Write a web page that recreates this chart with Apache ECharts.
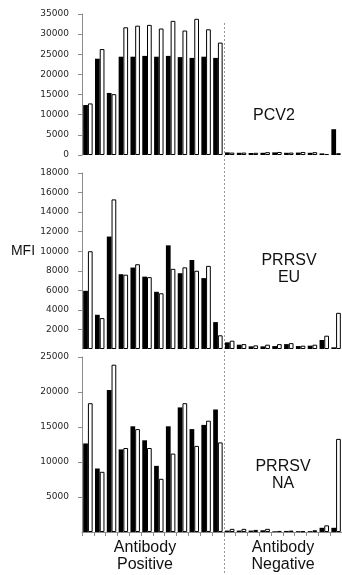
<!DOCTYPE html>
<html>
<head>
<meta charset="utf-8">
<script src="https://cdn.jsdelivr.net/npm/echarts@6/dist/echarts.min.js"></script>
<style>
  html, body { margin: 0; padding: 0; background: #fff; }
  #chart { width: 342px; height: 575px; }
</style>
</head>
<body>
<div id="chart"></div>
<script>
// 12 antibody positive sera, then 10 antibody negative sera
const samples = ['P1','P2','P3','P4','P5','P6','P7','P8','P9','P10','P11','P12',
                 'N1','N2','N3','N4','N5','N6','N7','N8','N9','N10'];

const pcv2Black = [12400, 23900, 15400, 24400, 24400, 24600, 24400, 24600, 24300, 24100, 24400, 24100,
                   650, 550, 500, 550, 650, 550, 600, 550, 400, 6400];
const pcv2White = [12800, 26300, 15100, 31700, 32100, 32300, 31400, 33300, 30900, 33800, 31200, 27900,
                   600, 600, 550, 700, 750, 600, 750, 700, 250, 450];

const euBlack = [5950, 3500, 11500, 7650, 8330, 7400, 5850, 10600, 7750, 9100, 7250, 2750,
                 680, 440, 270, 270, 300, 500, 300, 340, 920, 170];
const euWhite = [10000, 3160, 15300, 7600, 8670, 7350, 5700, 8200, 8350, 8000, 8500, 1400,
                 850, 500, 370, 440, 500, 600, 340, 440, 1360, 3700];

const naBlack = [12650, 9070, 20300, 11800, 15100, 13100, 9450, 15100, 17800, 14700, 15300, 17500,
                 200, 200, 200, 250, 100, 150, 120, 120, 600, 600];
const naWhite = [18400, 8600, 23900, 12000, 14700, 12000, 7600, 11200, 18400, 12300, 15900, 12800,
                 450, 450, 300, 450, 150, 200, 120, 250, 950, 13300];

const yMax = [35000, 18000, 25000];
const yStep = [5000, 2000, 5000];

const chart = echarts.init(document.getElementById('chart'));

const axisGray = '#8c8c8c';
const labelStyle = { fontFamily: 'DejaVu Sans', fontSize: 9, color: '#262626' };

const grids = [
    { left: 82, width: 261, top: 14, height: 141 },
    { left: 82, width: 261, top: 173, height: 176 },
    { left: 82, width: 261, top: 357, height: 175 }
];

const xAxes = grids.map((g, i) => ({
    type: 'category',
    gridIndex: i,
    data: samples,
    axisLine: { show: i === 2, lineStyle: { color: axisGray, width: 1 } },
    axisTick: { show: i === 2, interval: 0, length: 4, lineStyle: { color: axisGray } },
    axisLabel: { show: false }
}));

const yAxes = grids.map((g, i) => ({
    type: 'value',
    gridIndex: i,
    min: 0,
    max: yMax[i],
    interval: yStep[i],
    splitLine: { show: false },
    axisLine: { show: true, lineStyle: { color: axisGray, width: 1 } },
    axisTick: { show: true, length: 4, lineStyle: { color: axisGray } },
    axisLabel: Object.assign({
        margin: 13,
        showMinLabel: i === 0,
        formatter: v => String(v)
    }, labelStyle)
}));

function pair(idx, black, white) {
    return [
        {
            type: 'bar', xAxisIndex: idx, yAxisIndex: idx, data: black,
            barCategoryGap: '20%', barGap: '0%',
            itemStyle: { color: '#000', borderColor: '#000', borderWidth: 0 }
        },
        {
            type: 'bar', xAxisIndex: idx, yAxisIndex: idx, data: white,
            barCategoryGap: '20%', barGap: '0%',
            itemStyle: { color: '#fff', borderColor: '#000', borderWidth: 1 }
        }
    ];
}

const textFont = 'Liberation Sans';
function label(x, y, text, size) {
    return {
        type: 'text', x: x, y: y,
        style: {
            text: text, fontFamily: textFont, fontSize: size || 16, fill: '#111',
            align: 'center', verticalAlign: 'middle', lineHeight: 17
        }
    };
}

chart.setOption({
    animation: false,
    grid: grids,
    xAxis: xAxes,
    yAxis: yAxes,
    series: [].concat(
        pair(0, pcv2Black, pcv2White),
        pair(1, euBlack, euWhite),
        pair(2, naBlack, naWhite)
    )
});

// dashed separator between positive and negative sera
const xa = chart.convertToPixel({ xAxisIndex: 0 }, samples[11]);
const xb = chart.convertToPixel({ xAxisIndex: 0 }, samples[12]);
const sepX = Math.round((xa + xb) / 2) + 0.5;

chart.setOption({
    graphic: [
        {
            type: 'line',
            shape: { x1: sepX, y1: 23, x2: sepX, y2: 575 },
            style: { stroke: '#999', lineWidth: 1, lineDash: [2, 2] }
        },
        label(274, 116, 'PCV2'),
        label(289, 269, 'PRRSV\nEU'),
        label(283, 475, 'PRRSV\nNA'),
        label(145, 556, 'Antibody\nPositive'),
        label(283, 556, 'Antibody\nNegative'),
        label(23, 251, 'MFI', 14)
    ]
});
</script>
</body>
</html>
